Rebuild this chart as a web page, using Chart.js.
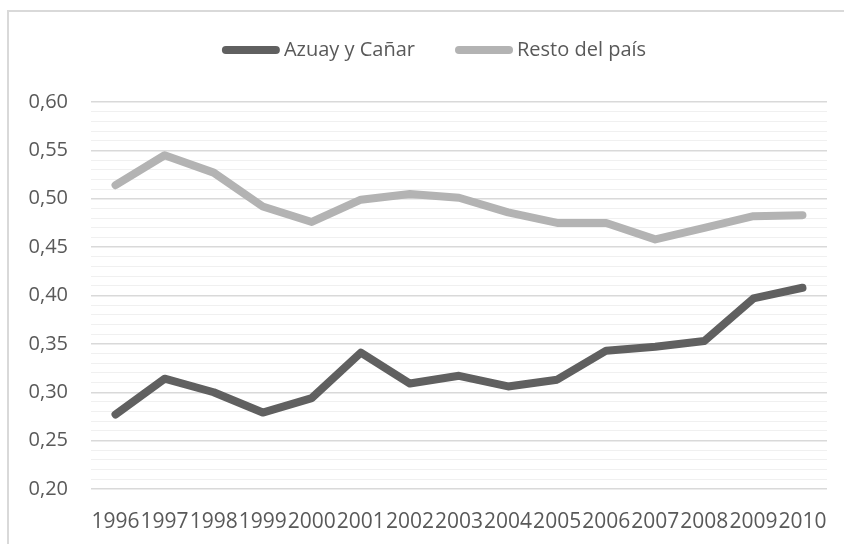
<!DOCTYPE html>
<html>
<head>
<meta charset="utf-8">
<script src="https://cdn.jsdelivr.net/npm/chart.js@4.4.1/dist/chart.umd.min.js"></script>
<style>
  html, body { margin: 0; padding: 0; background: #fff; overflow: hidden; }
  #wrap { position: relative; width: 844px; height: 544px; }
  #frame { position: absolute; left: 7px; top: 10px; width: 900px; height: 600px;
           border: 2px solid #d9d9d9; box-sizing: border-box; }
  #chart { position: absolute; left: 0; top: 0; }
</style>
</head>
<body>
<div id="wrap">
  <div id="frame"></div>
  <canvas id="chart" width="844" height="544"></canvas>
</div>
<script>
var years = ['1996', '1997', '1998', '1999', '2000', '2001', '2002', '2003',
             '2004', '2005', '2006', '2007', '2008', '2009', '2010'];
var azuayCanar = [0.277, 0.314, 0.300, 0.279, 0.294, 0.341, 0.309, 0.317,
                  0.306, 0.313, 0.343, 0.347, 0.353, 0.397, 0.408];
var restoPais = [0.514, 0.545, 0.527, 0.492, 0.476, 0.499, 0.505, 0.501,
                 0.486, 0.475, 0.475, 0.458, 0.470, 0.482, 0.483];
var yMin = 0.20, yMax = 0.60;

var FONT = "'Open Sans', sans-serif";
var TEXT = '#595959';

//major gridline every 0.05, minor every 0.01
function isMajor(v) {
  return Math.round(v * 100) % 5 === 0;
}

//excel style legend: short thick line, text right after it
var lineLegend = {
  id: 'lineLegend',
  afterDraw: function(chart) {
    var c = chart.ctx;
    var sets = chart.data.datasets;
    var sample = 50, gap = 8, itemGap = 36;
    c.save();
    c.font = '20px ' + FONT;
    c.textBaseline = 'middle';
    var total = 0;
    sets.forEach(function(ds, i) {
      total += 4 + sample + 4 + gap + c.measureText(ds.label).width;
      if (i < sets.length - 1) total += itemGap;
    });
    var x = 436 - total / 2, y = 50;
    sets.forEach(function(ds) {
      c.strokeStyle = ds.borderColor;
      c.lineWidth = ds.borderWidth;
      c.lineCap = 'round';
      c.beginPath();
      c.moveTo(x + 4, y);
      c.lineTo(x + 4 + sample, y);
      c.stroke();
      x += 4 + sample + 4 + gap;
      c.fillStyle = TEXT;
      c.fillText(ds.label, x - 4, y);
      x += c.measureText(ds.label).width + itemGap;
    });
    c.restore();
  }
};

var ctx = document.getElementById('chart');
var chart = new Chart(ctx, {
  type: 'line',
  data: {
    labels: years,
    datasets: [{
      label: 'Azuay y Cañar',
      data: azuayCanar,
      borderColor: '#606060',
      backgroundColor: '#606060',
      borderWidth: 8,
      borderCapStyle: 'round',
      borderJoinStyle: 'round',
      pointRadius: 0,
      tension: 0
    }, {
      label: 'Resto del país',
      data: restoPais,
      borderColor: '#b3b3b3',
      backgroundColor: '#b3b3b3',
      borderWidth: 8,
      borderCapStyle: 'round',
      borderJoinStyle: 'round',
      pointRadius: 0,
      tension: 0
    }]
  },
  options: {
    responsive: false,
    animation: false,
    layout: { padding: { top: 102, right: 17, left: 0, bottom: 0 } },
    plugins: {
      tooltip: { enabled: false },
      legend: { display: false }
    },
    scales: {
      x: {
        offset: true,
        grid: { display: false },
        border: { display: false },
        ticks: {
          color: TEXT,
          font: { family: FONT, size: 21 },
          padding: 12,
          maxRotation: 0,
          autoSkip: false
        },
        afterFit: function(scale) { scale.height = 55; }
      },
      y: {
        min: yMin,
        max: yMax,
        border: { display: false },
        grid: {
          drawTicks: false,
          color: function(c) {
            return c.tick && isMajor(c.tick.value) ? '#d9d9d9' : '#f0f0f0';
          },
          lineWidth: function(c) {
            return c.tick && isMajor(c.tick.value) ? 1.5 : 1;
          }
        },
        ticks: {
          stepSize: 0.01,
          maxTicksLimit: 100,
          autoSkip: false,
          padding: 23,
          color: TEXT,
          font: { family: FONT, size: 20 },
          callback: function(v) {
            return isMajor(v) ? v.toFixed(2).replace('.', ',') : '';
          }
        },
        afterFit: function(scale) { scale.width = 91; }
      }
    }
  },
  plugins: [lineLegend]
});
</script>
</body>
</html>
